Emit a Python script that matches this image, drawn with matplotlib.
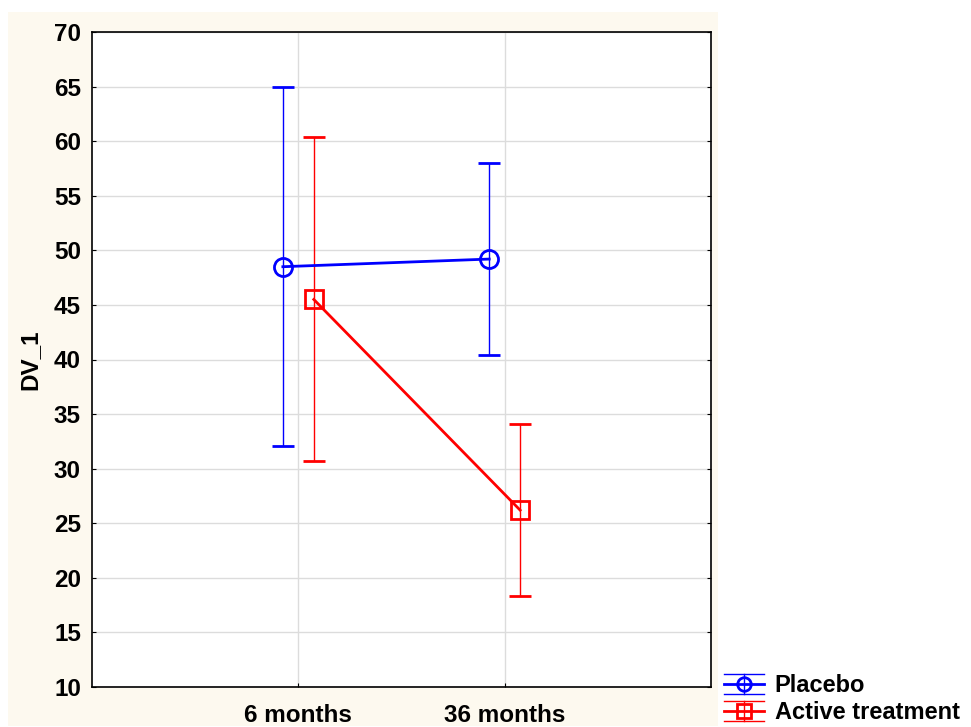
import numpy as np
import matplotlib
matplotlib.use("Agg")
import matplotlib.pyplot as plt
from matplotlib.patches import Rectangle
from matplotlib.lines import Line2D
from matplotlib.legend_handler import HandlerBase

plt.rcParams['font.family'] = ['Liberation Sans', 'DejaVu Sans']
plt.rcParams['font.weight'] = 'bold'

# data
timepoints = ["6 months", "36 months"]
placebo_mean = [48.5, 49.2]
placebo_low = [32.1, 40.4]
placebo_high = [65.0, 58.0]
active_mean = [45.5, 26.2]
active_low = [30.7, 18.3]
active_high = [60.4, 34.1]

FS = 17.5
W, H = 971, 727
fig = plt.figure(figsize=(W / 100, H / 100), dpi=100)
fig.patch.set_facecolor("white")

# cream panel behind the axes
fig.patches.append(Rectangle((8 / W, 1 - 726 / H), (718 - 8) / W, (726 - 12) / H,
                             transform=fig.transFigure, facecolor="#fdf9ef",
                             edgecolor="none", zorder=-5))

ax = fig.add_axes([92 / W, 1 - 687 / H, (711 - 92) / W, (687 - 32) / H])
ax.set_zorder(2)
ax.set_facecolor("white")

x = np.arange(1, len(timepoints) + 1)
off = 0.075


def draw(xs, mean, low, high, color, marker, ms, label):
    mean = np.array(mean)
    yerr = [mean - np.array(low), np.array(high) - mean]
    ax.errorbar(xs, mean, yerr=yerr, color=color, lw=2, elinewidth=1,
                capsize=8, capthick=1, marker=marker, ms=ms,
                mfc="none", mec=color, mew=2, zorder=3)
    return Line2D([], [], color=color, marker=marker, ms=ms, mfc="none",
                  mec=color, mew=2, lw=2, label=label)


class ErrHandler(HandlerBase):
    # legend key: wide caps above/below, line + marker
    def create_artists(self, legend, orig, xd, yd, width, height, fontsize, trans):
        c = orig.get_color()
        cy = height / 2 - yd
        d = 7
        x0, x1 = -xd, -xd + width
        xm = (x0 + x1) / 2
        arts = [
            Line2D([x0, x1], [cy + d, cy + d], color=c, lw=1),
            Line2D([x0, x1], [cy - d, cy - d], color=c, lw=1),
            Line2D([xm, xm], [cy - d, cy + d], color=c, lw=1),
            Line2D([x0, x1], [cy, cy], color=c, lw=2),
            Line2D([xm], [cy], marker=orig.get_marker(), ms=orig.get_markersize() * 0.75,
                   mfc="none", mec=c, mew=2, lw=0),
        ]
        for a in arts:
            a.set_transform(trans)
        return arts


h1 = draw(x - off, placebo_mean, placebo_low, placebo_high, "#0000ff", "o", 13, "Placebo")
h2 = draw(x + off, active_mean, active_low, active_high, "#ff0000", "s", 12.5, "Active treatment")

ax.set_xlim(0, 3)
ax.set_ylim(10, 70)
ax.set_yticks(np.arange(10, 71, 5))
ax.set_xticks(x)
ax.set_xticklabels(timepoints)
ax.grid(True, color="#dcdcdc", lw=1, zorder=0)
ax.set_axisbelow(True)
ax.tick_params(axis="both", direction="in", length=3, labelsize=FS, pad=8,
               right=True, top=False)
ax.tick_params(axis="x", pad=12)
for sp in ax.spines.values():
    sp.set_linewidth(1.2)
ax.set_ylabel("DV_1", fontsize=FS, fontweight="bold", labelpad=9)

fig.legend(handles=[h1, h2], handler_map={Line2D: ErrHandler()},
           loc="lower left", bbox_to_anchor=(724 / W, 0.004),
           frameon=False, fontsize=17, handlelength=1.7, handleheight=1.0,
           handletextpad=0.45, labelspacing=0.15, borderaxespad=0.0, borderpad=0.0)

fig.savefig("out.png", dpi=100, facecolor=fig.get_facecolor())
